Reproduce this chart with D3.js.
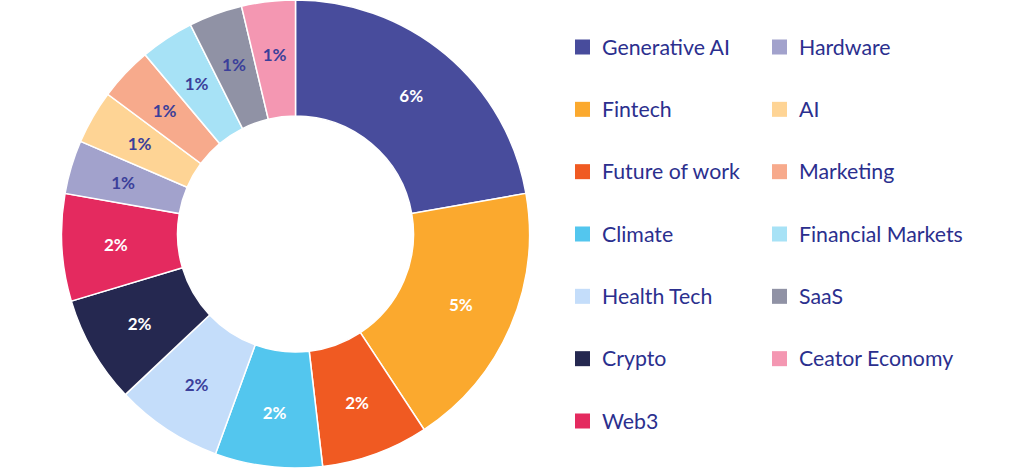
<!DOCTYPE html>
<html><head><meta charset="utf-8">
<script src="https://cdn.jsdelivr.net/npm/d3@7"></script>
<style>html,body{margin:0;padding:0;background:#fff;}svg{display:block;}</style>
</head><body>
<svg id="c" width="1024" height="470"></svg>
<script>
const categories = ["Generative AI","Fintech","Future of work","Climate","Health Tech","Crypto","Web3","Hardware","AI","Marketing","Financial Markets","SaaS","Ceator Economy"];
const values = [6,5,2,2,2,2,2,1,1,1,1,1,1];
const valueLabels = ["6%","5%","2%","2%","2%","2%","2%","1%","1%","1%","1%","1%","1%"];
const colors = ["#484c9c","#fba92e","#f05a22","#53c6ee","#c4ddfa","#252850","#e42a5f","#a2a2cc","#fed495","#f7aa8c","#a7e2f6","#9092a5","#f497b2"];
const labelColors = ["#fff","#fff","#fff","#fff","#3b3f9a","#fff","#fff","#3b3f9a","#3b3f9a","#3b3f9a","#3b3f9a","#3b3f9a","#3b3f9a"];

const svg = d3.select("#c");
const cx = 295.5, cy = 234, rOuter = 234, rInner = 118;
const data = categories.map((c,i)=>({name:c, value:values[i], label:valueLabels[i], color:colors[i], lc:labelColors[i]}));
const pie = d3.pie().sort(null).value(d=>d.value);
const arc = d3.arc().innerRadius(rInner).outerRadius(rOuter);
const labelArc = d3.arc().innerRadius(rInner+4).outerRadius(rOuter+4);
const g = svg.append("g").attr("transform",`translate(${cx},${cy})`);
const arcs = pie(data);
g.selectAll("path").data(arcs).join("path")
  .attr("d",arc).attr("fill",d=>d.data.color)
  .attr("stroke","#fff").attr("stroke-width",1.5);
g.selectAll("text").data(arcs).join("text")
  .attr("transform",d=>`translate(${labelArc.centroid(d)})`)
  .attr("text-anchor","middle").attr("dy","0.36em")
  .attr("font-family","Lato, sans-serif").attr("font-weight","bold").attr("font-size",17)
  .attr("fill",d=>d.data.lc).text(d=>d.data.label);

// legend
const rowY = d3.scaleLinear().domain([0,6]).range([47,421]);
const colX = [575,772];
const leg = svg.append("g");
data.forEach((d,i)=>{
  const col = i<7?0:1, row = i<7?i:i-7;
  const y = rowY(row), x = colX[col];
  leg.append("rect").attr("x",x).attr("y",y-7.5).attr("width",15).attr("height",15).attr("fill",d.color);
  leg.append("text").attr("x",x+27).attr("y",y).attr("dy","0.36em")
    .attr("font-family","Lato, sans-serif").attr("font-size",21.3).attr("fill","#2b2f8e")
    .text(d.name);
});
</script>
</body></html>
